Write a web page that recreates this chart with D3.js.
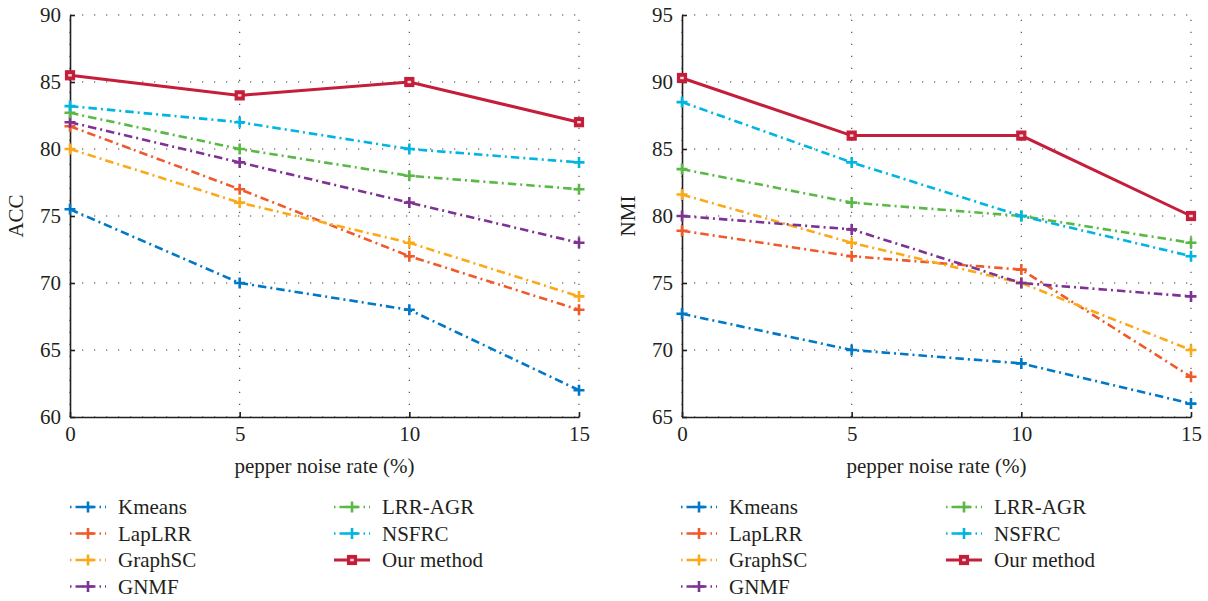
<!DOCTYPE html>
<html><head><meta charset="utf-8">
<script src="https://cdn.jsdelivr.net/npm/d3@7"></script>
<style>body{margin:0;background:#fff;}svg{display:block;}text{font-family:"Liberation Serif","Times New Roman",serif;fill:#231f20;}</style>
</head><body>
<svg id="chart" width="1208" height="601"></svg>
<script>
const xValues = [0, 5, 10, 15];
const xTicks = [0, 5, 10, 15];
const methods = ["Kmeans", "LapLRR", "GraphSC", "GNMF", "LRR-AGR", "NSFRC", "Our method"];
const colors = ["#0078c8", "#f05a28", "#fba919", "#7e3394", "#5ab946", "#00b5e2", "#c41e3a"];

// ACC values
const accKmeans = [75.5, 70, 68, 62];
const accLapLRR = [81.7, 77, 72, 68];
const accGraphSC = [80, 76, 73, 69];
const accGNMF = [82, 79, 76, 73];
const accLRRAGR = [82.7, 80, 78, 77];
const accNSFRC = [83.2, 82, 80, 79];
const accOurs = [85.5, 84, 85, 82];
const accTicks = [60, 65, 70, 75, 80, 85, 90];

// NMI values
const nmiKmeans = [72.7, 70, 69, 66];
const nmiLapLRR = [78.9, 77, 76, 68];
const nmiGraphSC = [81.6, 78, 75, 70];
const nmiGNMF = [80, 79, 75, 74];
const nmiLRRAGR = [83.5, 81, 80, 78];
const nmiNSFRC = [88.5, 84, 80, 77];
const nmiOurs = [90.3, 86, 86, 80];
const nmiTicks = [65, 70, 75, 80, 85, 90, 95];

const FS = 21;
const svg = d3.select("#chart");

function drawPanel(cfg) {
  const g = svg.append("g");
  const x = d3.scaleLinear().domain([0, 15]).range([cfg.x0, cfg.x1]);
  const y = d3.scaleLinear().domain(cfg.yDomain).range([cfg.yb, cfg.yt]);

  // grid
  g.selectAll(".hg").data(cfg.yTicks).enter().append("line")
    .attr("x1", cfg.x0).attr("x2", cfg.x1)
    .attr("y1", d => y(d)).attr("y2", d => y(d))
    .attr("stroke", "#444").attr("stroke-width", 1.1).attr("stroke-dasharray", "1.3,10.7");
  g.selectAll(".vg").data(xTicks).enter().append("line")
    .attr("x1", d => x(d)).attr("x2", d => x(d))
    .attr("y1", cfg.yb).attr("y2", cfg.yt)
    .attr("stroke", "#444").attr("stroke-width", 1.1).attr("stroke-dasharray", "1.3,10.7");

  // axes
  const ax = g.append("g").attr("transform", `translate(0,${cfg.yb})`)
    .call(d3.axisBottom(x).tickValues(xTicks).tickSizeInner(-5).tickSizeOuter(0).tickPadding(9));
  const ay = g.append("g").attr("transform", `translate(${cfg.x0},0)`)
    .call(d3.axisLeft(y).tickValues(cfg.yTicks).tickSizeInner(-5).tickSizeOuter(0).tickPadding(9));
  [ax, ay].forEach(a => {
    a.select(".domain").attr("stroke", "#231f20").attr("stroke-width", 1.6);
    a.selectAll(".tick line").attr("stroke", "#231f20").attr("stroke-width", 1.6);
    a.selectAll(".tick text").attr("font-size", FS).attr("font-family", "Liberation Serif").attr("fill", "#231f20");
  });

  // axis labels
  g.append("text").attr("x", (cfg.x0 + cfg.x1) / 2).attr("y", 473)
    .attr("text-anchor", "middle").attr("font-size", FS).text("pepper noise rate (%)");
  g.append("text").attr("transform", `translate(${cfg.x0 - 47},${(cfg.yt + cfg.yb) / 2}) rotate(-90)`)
    .attr("text-anchor", "middle").attr("font-size", FS).text(cfg.yLabel);

  const line = d3.line().x((d, i) => x(xValues[i])).y(d => y(d));
  cfg.series.forEach((vals, k) => {
    const ours = k === 6;
    g.append("path").datum(vals).attr("d", line)
      .attr("fill", "none").attr("stroke", colors[k]).attr("stroke-width", ours ? 3 : 2.6)
      .attr("stroke-dasharray", ours ? null : "8.5,4,2,4");
  });
  cfg.series.forEach((vals, k) => {
    vals.forEach((v, i) => drawMarker(g, x(xValues[i]), y(v), k));
  });

  // legend
  const lg = g.append("g");
  methods.forEach((m, k) => {
    const col = k < 4 ? 0 : 1;
    const row = k < 4 ? k : k - 4;
    const sx = cfg.legX[col];
    const yy = 507 + row * 26.5;
    lg.append("line").attr("x1", sx).attr("x2", sx + 36).attr("y1", yy).attr("y2", yy)
      .attr("stroke", colors[k]).attr("stroke-width", k === 6 ? 3 : 2.6)
      .attr("stroke-dasharray", k === 6 ? null : "1.5,4,8,4,8,4");
    drawMarker(lg, sx + 18, yy, k);
    lg.append("text").attr("x", sx + 48).attr("y", yy + 7).attr("font-size", FS).text(m);
  });
}

function drawMarker(g, cx, cy, k) {
  if (k === 6) {
    g.append("rect").attr("x", cx - 4.5).attr("y", cy - 4.5).attr("width", 9).attr("height", 9)
      .attr("fill", colors[k]).attr("stroke", colors[k]).attr("stroke-width", 1.2);
    g.append("rect").attr("x", cx - 1.8).attr("y", cy - 1.2).attr("width", 3.6).attr("height", 2.4)
      .attr("fill", "#f6d7dc");
  } else {
    const s = 5.5;
    g.append("path").attr("d", `M${cx - s},${cy}H${cx + s}M${cx},${cy - s}V${cy + s}`)
      .attr("stroke", colors[k]).attr("stroke-width", 2.6).attr("fill", "none");
  }
}

drawPanel({
  x0: 70, x1: 579, yt: 15, yb: 417, yDomain: [60, 90], yTicks: accTicks, yLabel: "ACC",
  series: [accKmeans, accLapLRR, accGraphSC, accGNMF, accLRRAGR, accNSFRC, accOurs],
  legX: [70, 334]
});
drawPanel({
  x0: 682, x1: 1191, yt: 15, yb: 417, yDomain: [65, 95], yTicks: nmiTicks, yLabel: "NMI",
  series: [nmiKmeans, nmiLapLRR, nmiGraphSC, nmiGNMF, nmiLRRAGR, nmiNSFRC, nmiOurs],
  legX: [681, 946]
});
</script>
</body></html>
